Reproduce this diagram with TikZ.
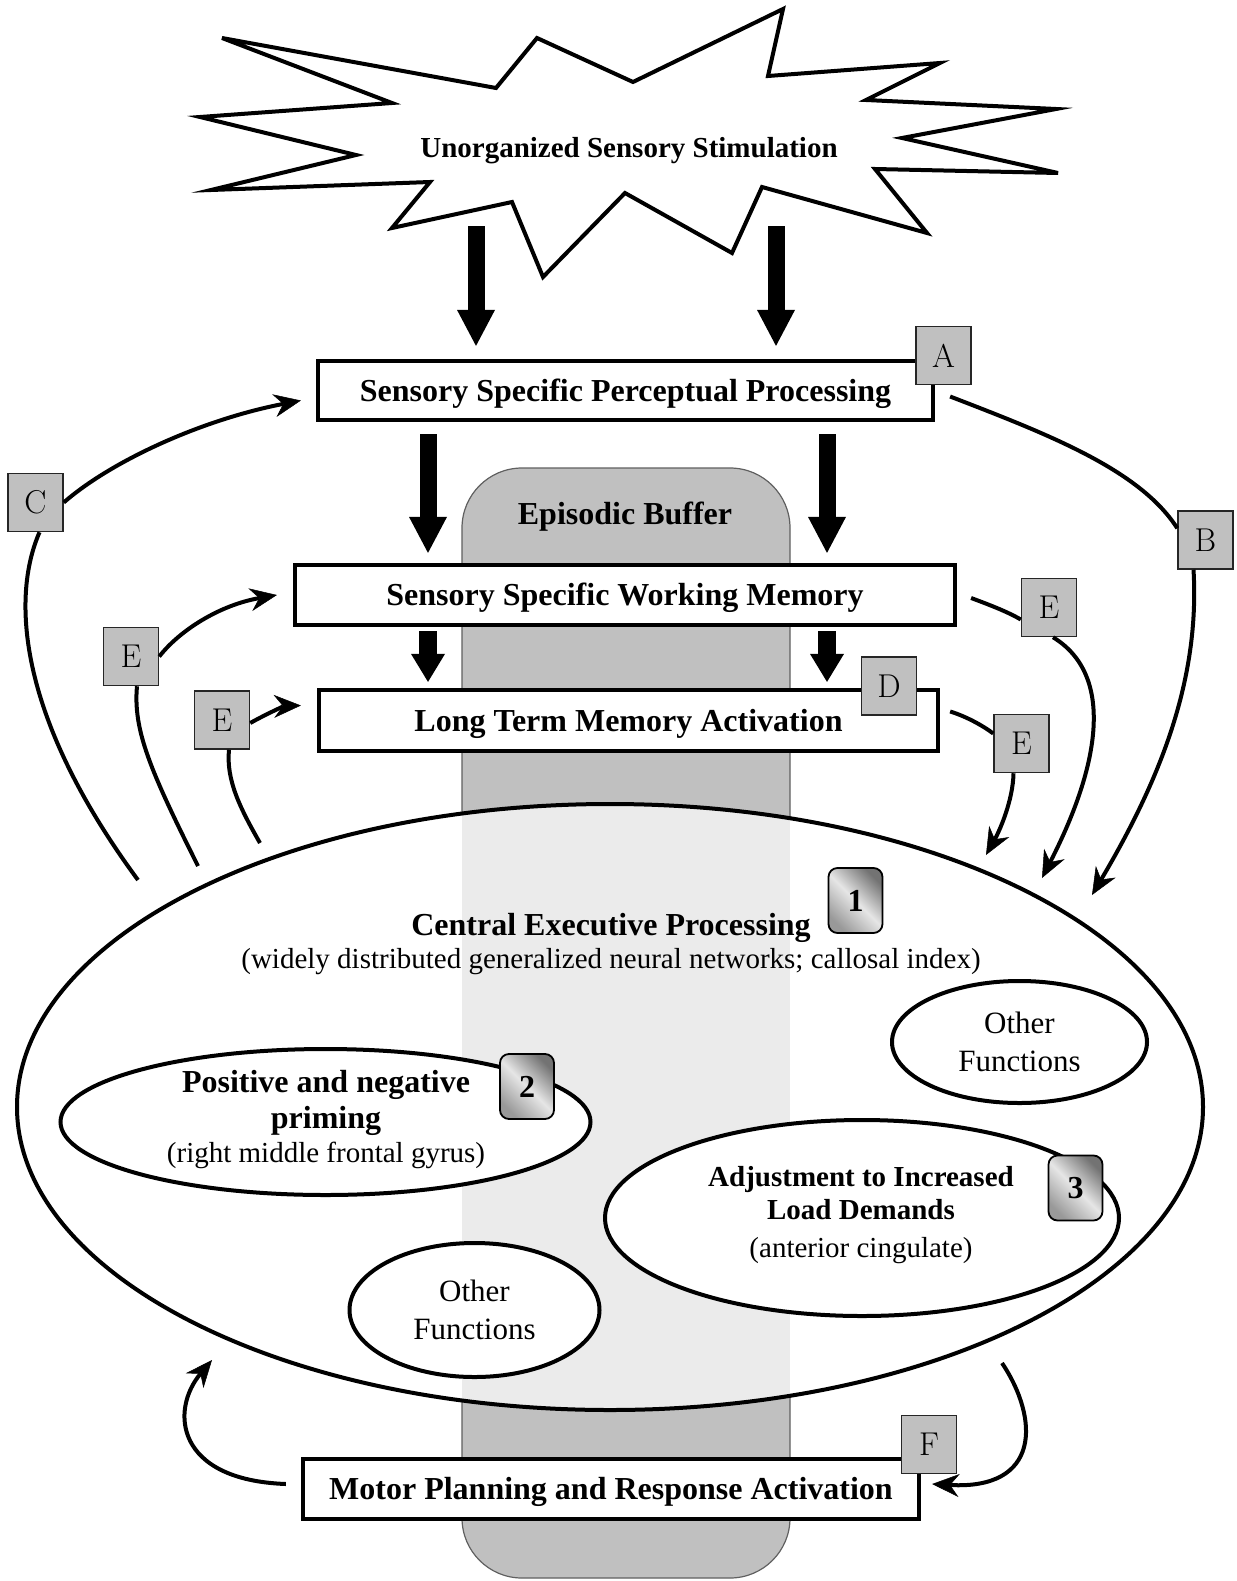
\documentclass[tikz,border=0pt]{standalone}
\usepackage{fontspec}
\newfontfamily\tnr{Liberation Serif}
\usetikzlibrary{arrows.meta,shapes.geometric,calc}
\definecolor{boxgray}{HTML}{C0C0C0}
\definecolor{bufline}{HTML}{606060}
\definecolor{buflight}{HTML}{EBEBEB}
\newcommand\fbb{\tnr\bfseries\fontsize{32}{36}\selectfont}
\newcommand\fbs{\tnr\bfseries\fontsize{29}{33}\selectfont}
\newcommand\frs{\tnr\fontsize{29}{33}\selectfont}
\newcommand\fro{\tnr\fontsize{31}{35}\selectfont}
\newcommand\flm{\rmfamily\fontsize{33}{36}\selectfont}
\begin{document}
\begin{tikzpicture}[x=1pt,y=-1pt,
  line width=4pt,
  procbox/.style={draw, line width=4.2pt, fill=white, inner sep=0pt, font=\fbb, text height=22pt, text depth=1pt},
  letterbox/.style={draw=black!85, line width=1.5pt, fill=boxgray, minimum width=55pt, minimum height=58pt, inner sep=0pt, font=\flm},
  numbox/.style={draw=black, line width=1.8pt, rounded corners=9pt, minimum width=54pt, minimum height=65pt, inner sep=0pt, font=\fbb, top color=black!55, bottom color=black!40, middle color=black!10, shading angle=-45},
  func/.style={ellipse, draw, line width=4pt, fill=white, inner sep=0pt},
  txt/.style={anchor=base, inner sep=0pt},
  blockarr/.style={line width=17pt, -{Triangle[length=36pt,width=38pt,line width=0pt]}},
  smallarr/.style={line width=18pt, -{Triangle[length=28pt,width=34pt,line width=0pt]}},
  flow/.style={line width=4pt, -{Stealth[length=27pt,width=23pt,inset=9pt,line width=0.5pt]}},
  link/.style={line width=4pt}
]
\fill[white] (0,0) rectangle (1236,1581);
\useasboundingbox (0,0) rectangle (1236,1581);

% episodic buffer
\draw[fill=boxgray, draw=bufline, line width=1.2pt, rounded corners=60pt] (462,468) rectangle (790,1578);
\node[txt, font=\fbb] (ebt) at (625,524) {Episodic Buffer};

% central executive ellipse
\fill[white] (610,1107) ellipse [x radius=593pt, y radius=303pt];
\begin{scope}
\clip (610,1107) ellipse [x radius=593pt, y radius=303pt];
\fill[buflight] (462,468) rectangle (790,1578);
\end{scope}
\node[ellipse, draw, line width=4pt, minimum width=1186pt, minimum height=606pt, inner sep=0pt] (CE) at (610,1107) {};

\node[func, minimum width=530pt, minimum height=146pt] (prim) at (325.5,1122) {};
\node[func, minimum width=255pt, minimum height=122pt] (of1) at (1019.5,1042) {};
\node[func, minimum width=514pt, minimum height=196pt] (adj) at (862,1218) {};
\node[func, minimum width=250pt, minimum height=134pt] (of2) at (474.5,1310) {};

\node[txt, font=\fbb] (cet) at (611,935) {Central Executive Processing};
\node[txt, font=\frs] (ces) at (611,968) {(widely distributed generalized neural networks; callosal index)};
\node[txt, font=\fbb] (pr1) at (326,1092) {Positive and negative};
\node[txt, font=\fbb] (pr2) at (326,1128) {priming};
\node[txt, font=\frs] (pr3) at (326,1162) {(right middle frontal gyrus)};
\node[txt, font=\fro] (of1a) at (1019.5,1033) {Other};
\node[txt, font=\fro] (of1b) at (1019.5,1071) {Functions};
\node[txt, font=\fro] (of2a) at (474.5,1301) {Other};
\node[txt, font=\fro] (of2b) at (474.5,1339) {Functions};
\node[txt, font=\fbs] (ad1) at (861,1186) {Adjustment to Increased};
\node[txt, font=\fbs] (ad2) at (861,1219) {Load Demands};
\node[txt, font=\frs] (ad3) at (861,1257) {(anterior cingulate)};

\node[numbox] (n1) at (855.5,900.5) {1};
\node[numbox] (n2) at (527,1086.5) {2};
\node[numbox] (n3) at (1075.5,1188) {3};

% process boxes
\node[procbox, minimum width=615pt, minimum height=59pt] (A) at (625.5,390.5) {Sensory Specific Perceptual Processing};
\node[procbox, minimum width=660pt, minimum height=60pt] (WM) at (625,595) {Sensory Specific Working Memory};
\node[procbox, minimum width=619pt, minimum height=61pt] (LTM) at (628.5,720.5) {Long Term Memory Activation};
\node[procbox, minimum width=616pt, minimum height=60pt] (Motor) at (611,1489) {Motor Planning and Response Activation};

% star
\draw[line width=4pt, fill=white] (222,38) -- (496,88) -- (537,38) -- (633,82) -- (783,9) -- (768,76) -- (940,63) -- (866,100) -- (1056,109) -- (902,138) -- (1058,173) -- (875,169) -- (927,233) -- (762,187) -- (732,253) -- (625,193) -- (543,277) -- (512,202) -- (392,228) -- (430,182) -- (211,190) -- (356,155) -- (200,117) -- (392,103) -- cycle;
\node[txt, font=\fbs] (star) at (629,158) {Unorganized Sensory Stimulation};

% block arrows
\coordinate (s1) at (476,226);
\coordinate (s2) at (776,226);
\coordinate (xl) at (428,0);
\coordinate (xr) at (827,0);
\draw[blockarr, shorten >=13pt] (s1) -- (s1 |- A.north);
\draw[blockarr, shorten >=13pt] (s2) -- (s2 |- A.north);
\draw[blockarr, shorten <=12pt, shorten >=10pt] (A.south -| xl) -- (WM.north -| xl);
\draw[blockarr, shorten <=12pt, shorten >=10pt] (A.south -| xr) -- (WM.north -| xr);
\draw[smallarr, shorten <=4pt, shorten >=6pt] (WM.south -| xl) -- (LTM.north -| xl);
\draw[smallarr, shorten <=4pt, shorten >=6pt] (WM.south -| xr) -- (LTM.north -| xr);

% letter boxes
\node[letterbox] (LA) at (943.5,355.5) {A};
\node[letterbox] (LB) at (1205.5,540) {B};
\node[letterbox] (LC) at (35.5,502.5) {C};
\node[letterbox] (LD) at (889,686) {D};
\node[letterbox] (E1) at (131,656.5) {E};
\node[letterbox] (E2) at (222,720) {E};
\node[letterbox] (ER1) at (1049,607.5) {E};
\node[letterbox] (ER2) at (1021.5,743.5) {E};
\node[letterbox] (LF) at (929,1444.5) {F};

% free ends
\coordinate (cl) at (138,880);
\coordinate (e1l) at (198,866);
\coordinate (e2l) at (260,843);
\coordinate (er1t) at (1042,878);
\coordinate (er2t) at (986,855);
\coordinate (bt) at (1092,895);
\coordinate (flt) at (212,1360);
\coordinate (frs) at (1002,1363);

% connectors
\draw[link] ([xshift=4pt]LC.south) .. controls (10,600) and (20,720) .. (cl);
\draw[flow] (LC.east) .. controls (110,462) and (200,420) .. ([xshift=-15pt,yshift=-10pt]A.west);
\draw[link] (e1l) .. controls (150,770) and (133,730) .. ([xshift=6pt]E1.south);
\draw[flow] (E1.east) .. controls (180,630) and (220,605) .. ([xshift=-16pt]WM.west);
\draw[link] (e2l) .. controls (240,808) and (226,780) .. ([xshift=7pt]E2.south);
\draw[flow] ([yshift=-3pt]E2.east) .. controls (270,712) and (285,706) .. ([xshift=-16pt,yshift=15pt]LTM.west);
\draw[link] ([xshift=14pt,yshift=-3pt]WM.east) .. controls (990,605) and (1008,612) .. ([yshift=-12pt]ER1.west);
\draw[flow] ([xshift=4pt]ER1.south) .. controls (1115,675) and (1100,765) .. (er1t);
\draw[link] ([xshift=10pt,yshift=9pt]LTM.east) .. controls (965,716) and (982,725) .. ([yshift=10pt]ER2.west);
\draw[flow] ([xshift=-8pt]ER2.south) .. controls (1013,800) and (1000,830) .. (er2t);
\draw[link] ([xshift=15pt,yshift=-6pt]A.east) .. controls (1050,435) and (1140,470) .. ([yshift=-18pt]LB.north west);
\draw[flow] ([xshift=-12pt]LB.south) .. controls (1200,680) and (1160,780) .. (bt);
\draw[flow] ([xshift=-15pt,yshift=5pt]Motor.west) .. controls (175,1480) and (170,1410) .. (flt);
\draw[flow] (frs) .. controls (1040,1420) and (1040,1490) .. ([xshift=11pt,yshift=5pt]Motor.east);
\end{tikzpicture}
\end{document}
